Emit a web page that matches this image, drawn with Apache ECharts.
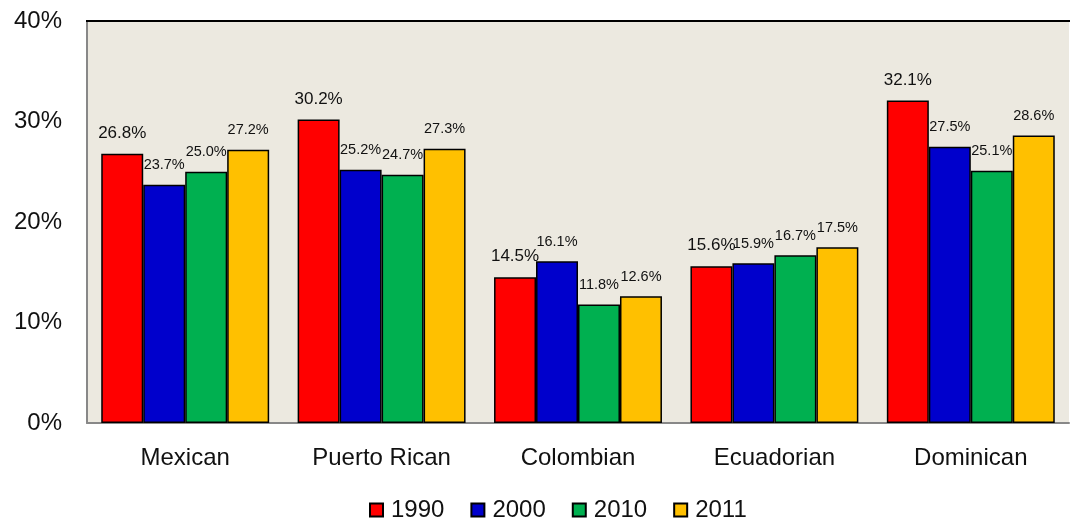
<!DOCTYPE html>
<html>
<head>
<meta charset="utf-8">
<script src="https://cdn.jsdelivr.net/npm/echarts@6/dist/echarts.min.js"></script>
<style>
  html, body { margin: 0; padding: 0; background: #ffffff; }
  #chart { width: 1070px; height: 523px; }
</style>
</head>
<body>
<div id="chart"></div>
<script>
// Share (%) by origin group and year
const categories = ['Mexican', 'Puerto Rican', 'Colombian', 'Ecuadorian', 'Dominican'];
const years = ['1990', '2000', '2010', '2011'];
const values1990 = [26.8, 30.2, 14.5, 15.6, 32.1];
const values2000 = [23.7, 25.2, 16.1, 15.9, 27.5];
const values2010 = [25.0, 24.7, 11.8, 16.7, 25.1];
const values2011 = [27.2, 27.3, 12.6, 17.5, 28.6];
const yTicks = { min: 0, max: 40, interval: 10 };

const colors = ['#FF0000', '#0000CC', '#00B050', '#FFC000'];
const seriesValues = [values1990, values2000, values2010, values2011];
const FONT = '"Liberation Sans", Arial, sans-serif';

const chart = echarts.init(document.getElementById('chart'), null, { renderer: 'canvas' });

const series = years.map((y, i) => ({
  name: y,
  type: 'bar',
  data: seriesValues[i],
  barGap: '0%',
  barCategoryGap: '14.5%',
  itemStyle: { color: colors[i], borderColor: '#000', borderWidth: 1.5 },
  label: {
    show: true,
    position: 'top',
    distance: 12,
    color: '#111',
    fontFamily: FONT,
    fontSize: i === 0 ? 17 : 14.5,
    formatter: p => p.value.toFixed(1) + '%'
  }
}));

chart.setOption({
  animation: false,
  backgroundColor: '#ffffff',
  color: colors,
  grid: {
    left: 87, right: 1, top: 21, bottom: 100,
    show: true,
    backgroundColor: '#ECE9E0',
    borderWidth: 0
  },
  legend: {
    data: years,
    top: 493,
    left: 364,
    itemWidth: 13,
    itemHeight: 13,
    itemGap: 26,
    icon: 'rect',
    textStyle: { fontFamily: FONT, fontSize: 24, color: '#111', padding: [0, 0, 0, 3] }
  },
  xAxis: {
    type: 'category',
    data: categories,
    axisLine: { show: true, lineStyle: { color: '#888', width: 2 } },
    axisTick: { show: false },
    axisLabel: { fontFamily: FONT, fontSize: 24, color: '#111', margin: 23 }
  },
  yAxis: [{
    type: 'value',
    min: yTicks.min,
    max: yTicks.max,
    interval: yTicks.interval,
    axisLine: { show: true, lineStyle: { color: '#888', width: 2 } },
    axisTick: { show: false },
    splitLine: { show: false },
    axisLabel: { fontFamily: FONT, fontSize: 24, color: '#111', margin: 25, formatter: '{value}%' }
  }],
  series: series
});

// Black top edge of the plot frame
chart.setOption({
  graphic: [{
    type: 'line',
    shape: { x1: 86, y1: 21, x2: 1070, y2: 21 },
    style: { stroke: '#000', lineWidth: 2 },
    z: 10
  }]
});
</script>
</body>
</html>
